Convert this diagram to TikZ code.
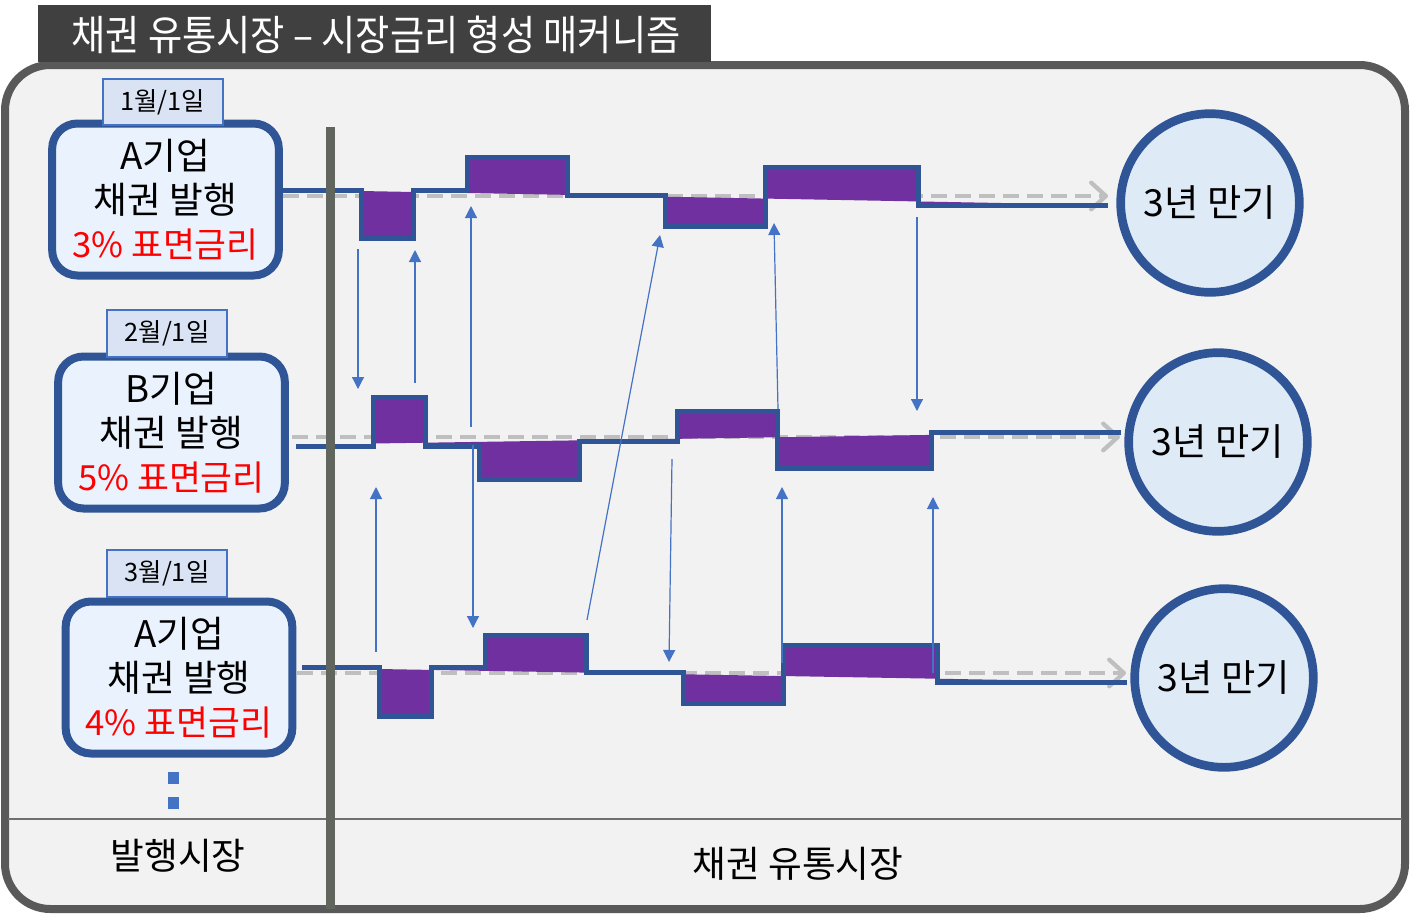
\documentclass[tikz,border=0pt]{standalone}
\usepackage{fontspec}
\setmainfont{Noto Sans CJK KR}
\newfontfamily\krtitle[FakeStretch=0.9]{Noto Sans CJK KR}
\usetikzlibrary{arrows.meta}
\definecolor{stepblue}{RGB}{47,85,151}
\definecolor{purp}{RGB}{112,48,160}
\definecolor{dashgray}{RGB}{191,191,191}
\definecolor{thinblue}{RGB}{68,114,196}
\definecolor{boxfill}{RGB}{234,243,253}
\definecolor{circfill}{RGB}{222,235,247}
\definecolor{datefill}{RGB}{218,227,243}
\definecolor{framefill}{RGB}{242,242,242}
\definecolor{framegray}{RGB}{89,89,89}
\definecolor{titlebg}{RGB}{64,64,64}
\definecolor{vlinecol}{RGB}{96,102,94}
\definecolor{sepgray}{RGB}{112,112,112}
\newcommand{\rateline}[1]{\textcolor{red}{\fontsize{26}{33}\selectfont #1}}
\tikzset{
  stepline/.style={draw=stepblue, line width=3.75pt, line join=miter},
  purpfill/.style={fill=purp},
  refdash/.style={draw=dashgray, line width=3.2pt, dash pattern=on 12pt off 6pt,
     -{Straight Barb[length=11pt,width=20pt,round]}},
  thinarrow/.style={draw=thinblue, line width=0.9pt, -{Triangle[length=9pt,width=9pt]}},
  issuebox/.style={draw=stepblue, line width=6pt, fill=boxfill, rounded corners=19pt,
     minimum width=170pt, minimum height=114pt, inner sep=0pt, align=center,
     font=\fontsize{27.5}{33}\selectfont},
  datebox/.style={draw=thinblue, line width=1.5pt, fill=datefill, minimum width=90pt,
     minimum height=35pt, inner sep=0pt, font=\fontsize{19}{22}\selectfont},
  matcircle/.style={circle, draw=stepblue, line width=6.5pt, fill=circfill,
     minimum size=134pt, inner sep=0pt, font=\fontsize{28}{30}\selectfont},
  bottomlabel/.style={inner sep=0pt, font=\fontsize{27.5}{30}\selectfont},
}
\begin{document}
\begin{tikzpicture}[x=0.75pt,y=-0.75pt]
\useasboundingbox (0,0) rectangle (1410,915);
\fill[white] (0,0) rectangle (1410,915);
% frame
\draw[framegray, fill=framefill, line width=6pt, rounded corners=34pt] (5,65) rectangle (1405,909);
% title bar
\fill[titlebg] (38,5) rectangle (711,62);
\node[text=white, inner sep=0pt, font=\krtitle\fontsize{31}{34}\selectfont] (title) at (376,35) {채권 유통시장 – 시장금리 형성 매커니즘};
% separator
\draw[sepgray, line width=1.5pt] (8,819) -- (1402,819);

% ---- dashed reference lines
\coordinate (d1s) at (283,196); \coordinate (d1e) at (1108,196);
\coordinate (d2s) at (292,437); \coordinate (d2e) at (1120,437);
\coordinate (d3s) at (297,673); \coordinate (d3e) at (1126,673);
\draw[refdash] (d1s) -- (d1e);
\draw[refdash] (d2s) -- (d2e);
\draw[refdash] (d3s) -- (d3e);

% ---- purple fills
\fill[purpfill] (361,191) -- (361,238) -- (413,238) -- (413,190) -- (467,190) -- (467,157) -- (567,157) -- (567,195) -- (665,195) -- (665,226) -- (765,226) -- (765,167) -- (918,167) -- (918,205) -- (1108,205) -- cycle;
\fill[purpfill] (373,443.5) -- (373,397) -- (425,397) -- (425,446) -- (479,446) -- (479,479) -- (579,479) -- (579,441) -- (677,441) -- (677,411) -- (777,411) -- (777,468) -- (931,468) -- (931,432) -- (1120,432) -- cycle;
\fill[purpfill] (379,669) -- (379,716) -- (431,716) -- (431,667) -- (485,667) -- (485,635) -- (586,635) -- (586,672) -- (683,672) -- (683,703) -- (783,703) -- (783,645) -- (937,645) -- (937,682) -- (1127,682) -- cycle;

% ---- step lines
\draw[stepline] (283,190) -- (361,190) -- (361,238) -- (413,238) -- (413,190) -- (467,190) -- (467,157) -- (567,157) -- (567,195) -- (665,195) -- (665,226) -- (765,226) -- (765,167) -- (918,167) -- (918,205) -- (1108,205);
\draw[stepline] (296,446) -- (373,446) -- (373,397) -- (425,397) -- (425,446) -- (479,446) -- (479,479) -- (579,479) -- (579,441) -- (677,441) -- (677,411) -- (777,411) -- (777,468) -- (931,468) -- (931,432) -- (1121,432);
\draw[stepline] (302,667) -- (379,667) -- (379,716) -- (431,716) -- (431,667) -- (485,667) -- (485,635) -- (586,635) -- (586,672) -- (683,672) -- (683,703) -- (783,703) -- (783,645) -- (937,645) -- (937,682) -- (1127,682);

% ---- thin arrows
\coordinate (a1s) at (358,249); \coordinate (a1e) at (358,389);
\coordinate (a2s) at (415,383); \coordinate (a2e) at (415,250);
\coordinate (a3s) at (471,427); \coordinate (a3e) at (471,206);
\coordinate (a4s) at (587,620); \coordinate (a4e) at (660,235);
\coordinate (a5s) at (778,409); \coordinate (a5e) at (774,223);
\coordinate (a6s) at (917,217); \coordinate (a6e) at (917,411);
\coordinate (a7s) at (376,652); \coordinate (a7e) at (376,487);
\coordinate (a8s) at (473,445); \coordinate (a8e) at (473,628);
\coordinate (a9s) at (672,459); \coordinate (a9e) at (669,662);
\coordinate (a10s) at (782,663); \coordinate (a10e) at (782,487);
\coordinate (a11s) at (933,673); \coordinate (a11e) at (933,497);
\foreach \i in {1,...,11} {\draw[thinarrow] (a\i s) -- (a\i e);}

% ---- vertical divider
\draw[vlinecol, line width=6.75pt] (330,127) -- (330,909);

% ---- issue boxes
\node[issuebox] (box1) at (165.5,199.5) {A기업\\채권 발행\\\rateline{3\% 표면금리}};
\node[issuebox] (box2) at (171.5,432.5) {B기업\\채권 발행\\\rateline{5\% 표면금리}};
\node[issuebox] (box3) at (179,677.5) {A기업\\채권 발행\\\rateline{4\% 표면금리}};
\node[datebox] (date1) at (162.5,102) {1월/1일};
\node[datebox] (date2) at (167,333.5) {2월/1일};
\node[datebox] (date3) at (167,573.5) {3월/1일};
% continuation dots
\fill[thinblue] (168,772) rectangle (179,784);
\fill[thinblue] (168,797) rectangle (179,809);

% ---- maturity circles
\node[matcircle] (mat1) at (1210,203) {3년 만기};
\node[matcircle] (mat2) at (1218,442) {3년 만기};
\node[matcircle] (mat3) at (1224,678) {3년 만기};

% ---- bottom labels
\node[bottomlabel] (issuemkt) at (178,856) {발행시장};
\node[bottomlabel] (trademkt) at (798,864) {채권 유통시장};
\end{tikzpicture}
\end{document}
